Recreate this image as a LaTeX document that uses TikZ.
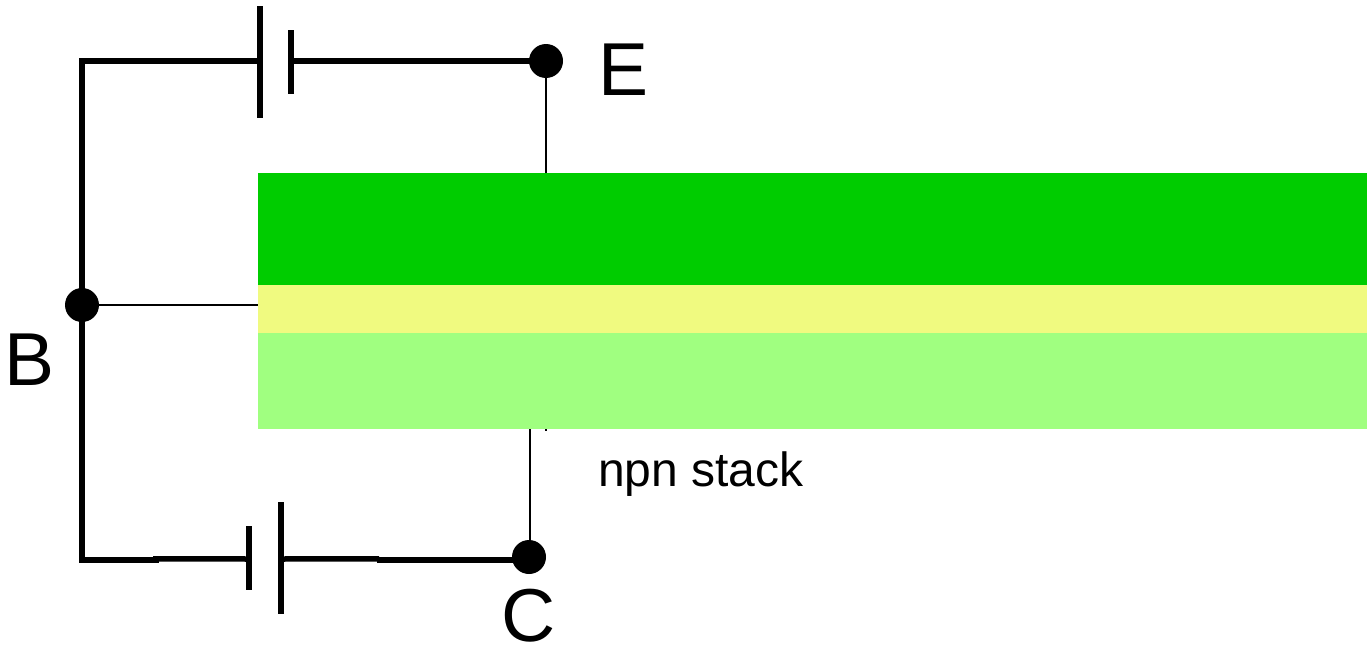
\documentclass[tikz,border=0pt]{standalone}
\usepackage{fontspec}
\setmainfont{Liberation Sans}
\definecolor{emitgreen}{RGB}{0,204,0}
\definecolor{basey}{RGB}{240,250,128}
\definecolor{collgreen}{RGB}{160,255,128}
\tikzset{
  layer/.style={draw=none,fill=#1,minimum width=1109pt,inner sep=0pt,outer sep=0pt,anchor=north west},
  dot/.style={circle,fill=black,draw=none,minimum size=34pt,inner sep=0pt,outer sep=0pt},
  wire/.style={line width=6pt,line cap=butt},
  thinwire/.style={line width=2.5pt},
  plate/.style={line width=6pt,line cap=butt},
  biglabel/.style={inner sep=0pt,outer sep=0pt,anchor=base west,font=\fontsize{75}{75}\selectfont},
  smalllabel/.style={inner sep=0pt,outer sep=0pt,anchor=base west,font=\fontsize{48}{48}\selectfont}
}
\begin{document}
\begin{tikzpicture}[x=1pt,y=-1pt]
\useasboundingbox (0,0) rectangle (1367,645);
% junctions
\node[dot] (E) at (546,61) {};
\node[dot] (Bj) at (82,305) {};
\node[dot] (Cj) at (529,557) {};
% battery plates
\coordinate (t1) at (259.5,6); \coordinate (t2) at (259.5,118);
\coordinate (t3) at (291,30); \coordinate (t4) at (291,94);
\coordinate (b1) at (249,526); \coordinate (b2) at (249,590);
\coordinate (b3) at (281,502); \coordinate (b4) at (281,614);
\coordinate (tl) at (82,61); \coordinate (bl) at (82,559.7);
\coordinate (tp) at (259.5,61); \coordinate (ts) at (291,61);
\coordinate (bp) at (249,559); \coordinate (bq) at (281,559);
\coordinate (bk1) at (159,559.7); \coordinate (bk2) at (377,559.7);
\coordinate (bk3) at (153,558.8); \coordinate (bk4) at (379,558.8);
\coordinate (Cw) at (529,559.7);
\coordinate (tb1) at (162,61); \coordinate (tb2) at (178,61);
% thin connectors
\coordinate (Etop) at (546,180);
\coordinate (Ctop) at (530,420);
\coordinate (Bend) at (265,305);
\coordinate (Cbot) at (530,557);
\coordinate (Eend) at (546,431);
\draw[thinwire] (E.center) -- (Etop);
\draw[thinwire] (Bj.center) -- (Bend);
\draw[thinwire] (Ctop) -- (Cbot);
\draw[line width=1.5pt] (546,425) -- (Eend);
% stack
\node[layer=emitgreen,minimum height=112pt] (n1) at (258,173) {};
\node[layer=basey,minimum height=48pt] (p) at (258,285) {};
\node[layer=collgreen,minimum height=96pt] (n2) at (258,333) {};
% circuit wires
\draw[wire,line join=miter] (tp) -- (tl) -- (bl) -- (bk1);
\draw[wire] (ts) -- (E.center);
\draw[wire,line width=5.5pt] (bk3) -- (bp);
\draw[wire,line width=5.5pt] (bq) -- (bk4);
\draw[wire] (bk2) -- (Cw);
\draw[plate] (t1) -- (t2);
\draw[plate] (t3) -- (t4);
\draw[plate] (b1) -- (b2);
\draw[plate] (b3) -- (b4);
% labels
\node[biglabel] (Elab) at (598,95) {E};
\node[biglabel] (Blab) at (5,385) {B};
\node[biglabel] (Clab) at (501,641) {C};
\node[smalllabel] (stack) at (598,486) {npn stack};
\end{tikzpicture}
\end{document}
